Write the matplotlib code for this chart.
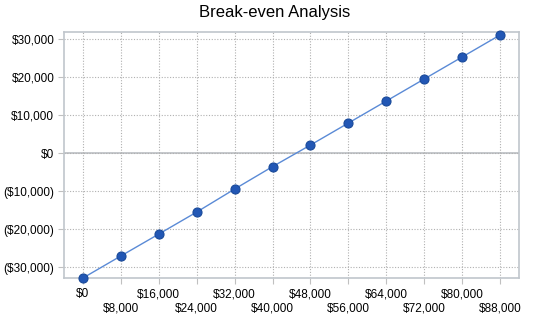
import matplotlib
matplotlib.use("Agg")
import matplotlib.pyplot as plt
from matplotlib.ticker import FuncFormatter

sales = [0, 8000, 16000, 24000, 32000, 40000, 48000, 56000, 64000, 72000, 80000, 88000]
profit = [-32800, -27000, -21240, -15450, -9400, -3500, 2180, 7970, 13760, 19550, 25340, 31130]
y_ticks = [-30000, -20000, -10000, 0, 10000, 20000, 30000]
title = "Break-even Analysis"

plt.rcParams['font.family'] = ['Liberation Sans', 'DejaVu Sans']

fig = plt.figure(figsize=(5.5, 3.18), dpi=100)
ax = fig.add_axes([64/550, 1-278/318, (519-64)/550, (278-31.7)/318])

ax.plot(sales, profit, color='#5a8ad6', lw=1.0, marker='o', markersize=6.5,
        markerfacecolor='#2257b5', markeredgecolor='#1a4a9a', markeredgewidth=0.8,
        zorder=3, clip_on=False)

ax.set_xlim(-4000, 92000)
ax.set_ylim(-32800, 32000)
ax.set_xticks(sales)
ax.set_yticks(y_ticks)

def money(v):
    v = int(round(v))
    if v < 0:
        return "(${:,})".format(-v)
    return "${:,}".format(v)

ax.xaxis.set_major_formatter(FuncFormatter(lambda v, p: money(v)))
ax.yaxis.set_major_formatter(FuncFormatter(lambda v, p: money(v)))

ax.grid(True, color='#b0b0b0', linestyle=(0, (1, 1.5)), linewidth=0.8)
ax.axhline(0, color='#c0c4c8', lw=1.3, zorder=1)
for s in ax.spines.values():
    s.set_color('#c0c6cc')
    s.set_linewidth(1.2)
ax.tick_params(axis='both', colors='#c0c0c0', labelcolor='black', labelsize=8.5, length=4, width=0.8)
ax.tick_params(axis='y', pad=3)
for i, t in enumerate(ax.xaxis.get_major_ticks()):
    t.set_pad(3.5 if i % 2 == 0 else 13.3)

fig.suptitle(title, x=0.5, y=1-12.5/318, va='center', fontsize=12)

fig.savefig("out.png", dpi=100)
